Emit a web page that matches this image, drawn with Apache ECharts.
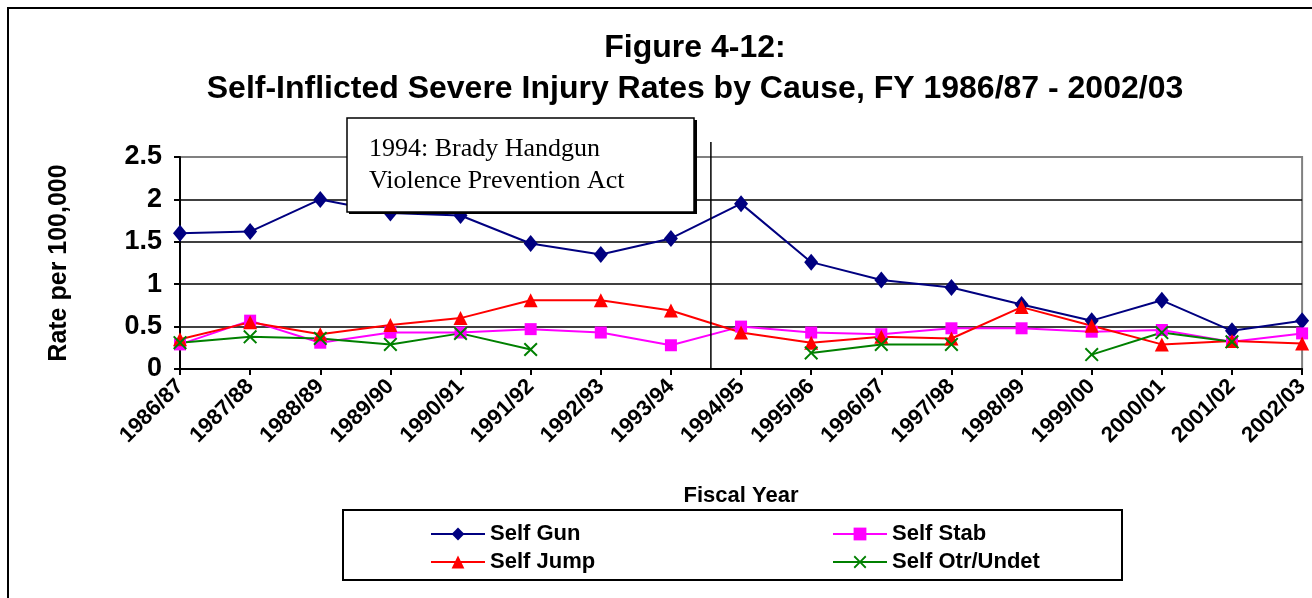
<!DOCTYPE html>
<html>
<head>
<meta charset="utf-8">
<script src="https://cdn.jsdelivr.net/npm/echarts@6/dist/echarts.min.js"></script>
<style>
  html, body { margin: 0; padding: 0; background: #fff; }
  #chart { width: 1312px; height: 598px; }
</style>
</head>
<body>
<div id="chart"></div>
<script>
  // fiscal years on the x axis
  const years = ['1986/87', '1987/88', '1988/89', '1989/90', '1990/91', '1991/92', '1992/93', '1993/94',
    '1994/95', '1995/96', '1996/97', '1997/98', '1998/99', '1999/00', '2000/01', '2001/02', '2002/03'];

  // rates per 100,000
  const selfGun = [1.60, 1.62, 2.00, 1.84, 1.81, 1.48, 1.35, 1.54, 1.95, 1.26, 1.05, 0.96, 0.76, 0.57, 0.81, 0.45, 0.57];
  const selfStab = [0.29, 0.57, 0.31, 0.43, 0.43, 0.47, 0.43, 0.28, 0.50, 0.43, 0.41, 0.48, 0.48, 0.44, 0.46, 0.32, 0.42];
  const selfJump = [0.35, 0.55, 0.41, 0.52, 0.60, 0.81, 0.81, 0.69, 0.43, 0.31, 0.38, 0.36, 0.73, 0.51, 0.29, 0.33, 0.30];
  const selfOtr = [0.31, 0.38, 0.36, 0.29, 0.42, 0.23, null, null, null, 0.19, 0.29, 0.29, null, 0.17, 0.43, 0.32, null];

  const yTicks = [0, 0.5, 1, 1.5, 2, 2.5];

  // where the Brady act marker sits, in category units
  const bradyPos = 7.57;

  const xMark = 'path://M0,1L1,0L5,4L9,0L10,1L6,5L10,9L9,10L5,6L1,10L0,9L4,5Z';
  const fontSans = '"Liberation Sans", Arial, sans-serif';

  let myChart = echarts.init(document.getElementById('chart'));

  function makeSeries(name, data, color, symbol, size) {
    return {
      name: name,
      type: 'line',
      data: data,
      symbol: symbol,
      symbolSize: size,
      connectNulls: false,
      lineStyle: {color: color, width: 2},
      itemStyle: {color: color, borderWidth: 0},
      emphasis: {disabled: true},
      animation: false
    };
  }

  let legendText = {fontFamily: fontSans, fontWeight: 'bold', fontSize: 22, color: '#000'};

  let option = {
    animation: false,
    title: {
      text: 'Figure 4-12:\nSelf-Inflicted Severe Injury Rates by Cause, FY 1986/87 - 2002/03',
      left: 690,
      top: 23,
      textAlign: 'center',
      textStyle: {
        fontFamily: fontSans,
        fontWeight: 'bold',
        fontSize: 32,
        lineHeight: 41,
        color: '#000'
      }
    },
    legend: [
      {
        data: ['Self Gun', 'Self Jump'],
        orient: 'vertical',
        left: 425,
        top: 518,
        itemGap: 6,
        itemWidth: 54,
        itemHeight: 16,
        textStyle: legendText
      },
      {
        data: ['Self Stab', 'Self Otr/Undet'],
        orient: 'vertical',
        left: 827,
        top: 518,
        itemGap: 6,
        itemWidth: 54,
        itemHeight: 16,
        textStyle: legendText
      }
    ],
    grid: {
      left: 180,
      right: 9,
      top: 157,
      bottom: 229,
      show: true,
      borderColor: '#808080',
      borderWidth: 2,
      containLabel: false
    },
    xAxis: {
      type: 'category',
      data: years,
      boundaryGap: false,
      name: 'Fiscal Year',
      nameLocation: 'middle',
      nameGap: 116,
      nameTextStyle: {fontFamily: fontSans, fontWeight: 'bold', fontSize: 22, color: '#000'},
      axisLine: {lineStyle: {color: '#000', width: 2}},
      axisTick: {show: true, inside: false, length: 6, lineStyle: {color: '#000', width: 2}},
      axisLabel: {
        rotate: 45,
        margin: 14,
        interval: 0,
        fontFamily: fontSans,
        fontWeight: 'bold',
        fontSize: 22,
        color: '#000'
      },
      splitLine: {show: false}
    },
    yAxis: {
      type: 'value',
      min: yTicks[0],
      max: yTicks[yTicks.length - 1],
      interval: 0.5,
      name: 'Rate per 100,000',
      nameLocation: 'middle',
      nameGap: 108,
      nameRotate: 90,
      nameTextStyle: {fontFamily: fontSans, fontWeight: 'bold', fontSize: 25, color: '#000'},
      axisLine: {show: true, lineStyle: {color: '#000', width: 2}},
      axisTick: {show: true, inside: false, length: 6, lineStyle: {color: '#000', width: 2}},
      axisLabel: {
        margin: 18,
        fontFamily: fontSans,
        fontWeight: 'bold',
        fontSize: 27,
        color: '#000'
      },
      splitLine: {
        show: true,
        lineStyle: {color: ['#000', '#000', '#000', '#000', '#000', '#808080'], width: 1.5}
      }
    },
    series: [
      makeSeries('Self Gun', selfGun, '#000080', 'diamond', [14, 17]),
      makeSeries('Self Stab', selfStab, '#FF00FF', 'rect', 12),
      makeSeries('Self Jump', selfJump, '#FF0000', 'triangle', 14),
      makeSeries('Self Otr/Undet', selfOtr, '#008000', xMark, 14)
    ]
  };

  myChart.setOption(option);

  // 1994 marker line and note box, placed from the axis scale
  let p7 = myChart.convertToPixel({xAxisIndex: 0}, years[7]);
  let p8 = myChart.convertToPixel({xAxisIndex: 0}, years[8]);
  let lineX = p7 + (bradyPos - 7) * (p8 - p7);
  let yBottom = myChart.convertToPixel({yAxisIndex: 0}, 0);

  myChart.setOption({
    graphic: [
      // outer frame of the figure
      {
        type: 'rect',
        shape: {x: 8, y: 8, width: 1330, height: 620},
        style: {fill: null, stroke: '#000', lineWidth: 2},
        silent: true
      },
      {
        type: 'line',
        shape: {x1: lineX, y1: 142, x2: lineX, y2: yBottom},
        style: {stroke: '#000', lineWidth: 1.5},
        z: 10
      },
      // note box with a small drop shadow
      {
        type: 'rect',
        shape: {x: 349, y: 120, width: 348, height: 94},
        style: {fill: '#000'},
        z: 11
      },
      {
        type: 'rect',
        shape: {x: 347, y: 118, width: 347, height: 94},
        style: {fill: '#fff', stroke: '#000', lineWidth: 1.5},
        z: 12
      },
      {
        type: 'text',
        left: 369,
        top: 133,
        z: 13,
        style: {
          text: '1994: Brady Handgun\nViolence Prevention Act',
          font: '26px "Liberation Serif", "Times New Roman", serif',
          lineHeight: 32,
          fill: '#000'
        }
      },
      // legend box
      {
        type: 'rect',
        shape: {x: 343, y: 510, width: 779, height: 70},
        style: {fill: null, stroke: '#000', lineWidth: 2},
        z: 5
      }
    ]
  });
</script>
</body>
</html>
